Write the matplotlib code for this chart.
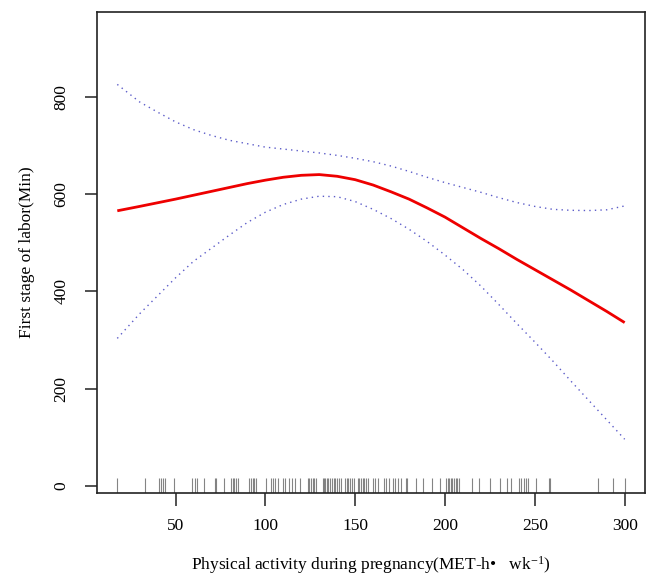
import numpy as np
import matplotlib
matplotlib.use('Agg')
import matplotlib.pyplot as plt
import matplotlib.transforms as mtransforms

plt.rcParams['font.family'] = ['Liberation Serif', 'DejaVu Serif']
plt.rcParams['mathtext.fontset'] = 'custom'
plt.rcParams['mathtext.rm'] = 'Liberation Serif'
plt.rcParams['mathtext.it'] = 'Liberation Serif:italic'

# values
pa = [17.6, 30, 40, 50, 60, 70, 80, 90, 100, 110, 120, 130, 140, 150, 160,
      170, 180, 190, 200, 210, 220, 230, 240, 250, 260, 270, 280, 290, 300]
fit = [566, 575, 582.5, 590, 598, 606, 614, 622, 629, 635, 639, 640.5, 637, 630, 619,
       605, 590, 572, 553, 531, 509, 488, 466, 445, 424, 403, 381, 359, 336]
upper = [826, 790, 769, 749, 733, 721, 711, 704, 697, 693, 689, 685, 680, 674, 667,
         658, 647, 635, 624, 614, 604, 593, 583, 575, 569, 567, 566.5, 568, 576]
lower = [303.5, 354, 391, 428, 462, 489, 516, 542, 563, 579, 590, 596, 595, 585, 569,
         550, 528, 503, 475, 445, 411, 373, 334, 296, 257, 216, 176, 136, 96]

rug = [17.6, 33.3, 40.7, 41.8, 42.9, 44.4, 48.9, 59.3, 60.6, 61.8, 65.6, 72.1, 72.6,
       76.8, 81, 81.8, 82.6, 83.7, 84.6, 91.1, 92.1, 93, 93.7, 94.9, 100.4, 103.4,
       104.5, 105.6, 106.9, 110.0, 111.1, 113.4, 114.9, 116.7, 119.3, 123.5, 124.5,
       125.4, 126.3, 127.3, 128.2, 131.9, 132.4, 133.2, 134.1, 135.0, 136.0, 136.9,
       138.0, 138.9, 139.9, 141.2, 142.1, 144.5, 145.2, 146.2, 147.1, 148.2, 149.1,
       151.3, 152.3, 153.2, 154.1, 155.1, 156.0, 156.9, 160.2, 161.2, 162.5, 166.2,
       167.1, 169.0, 170.8, 172.3, 173.6, 175.5, 178.2, 179.1, 183.8, 187.5, 192.7,
       197.1, 200.5, 201.4, 202.3, 203.3, 204.1, 205.1, 206.0, 206.9, 207.9, 214.9,
       219.0, 224.9, 230.5, 234.7, 236.9, 241.2, 242.2, 244.0, 245.3, 246.4, 250.8,
       257.9, 258.6, 285.1, 293.6, 300.0]

xticks = [50, 100, 150, 200, 250, 300]
yticks = [0, 200, 400, 600, 800]

fig = plt.figure(figsize=(6.54, 5.79), dpi=100)
ax = fig.add_axes([0.1483, 0.149, 0.8379, 0.8303])

ax.plot(pa, fit, color='#ee0000', lw=2.0, solid_capstyle='butt')
ax.plot(pa, upper, color='#3333bb', lw=1.0, dashes=(1, 3), alpha=0.8)
ax.plot(pa, lower, color='#3333bb', lw=1.0, dashes=(1, 3), alpha=0.8)

trans = mtransforms.blended_transform_factory(ax.transData, ax.transAxes)
ax.vlines(rug, 0, 0.03, transform=trans, color='#666666', lw=0.8, alpha=0.8)

ax.set_xlim(6.3, 311.3)
ax.set_ylim(-14, 975)
ax.set_xticks(xticks)
ax.set_yticks(yticks)
ax.set_yticklabels([str(v) for v in yticks], rotation=90, va='center')
ax.tick_params(axis='both', length=9, width=1.1, labelsize=12.5, color='#222222')
ax.tick_params(axis='x', pad=9)
ax.tick_params(axis='y', pad=11)

for s in ax.spines.values():
    s.set_linewidth(1.2)
    s.set_color('#222222')

ax.set_xlabel('Physical activity during pregnancy(MET-h\u2022   wk$^{\\mathrm{-1}}$)',
              fontsize=12.5, labelpad=15)
ax.set_ylabel('First stage of labor(Min)', fontsize=12.5, labelpad=13)

fig.savefig('out.png', dpi=100)
